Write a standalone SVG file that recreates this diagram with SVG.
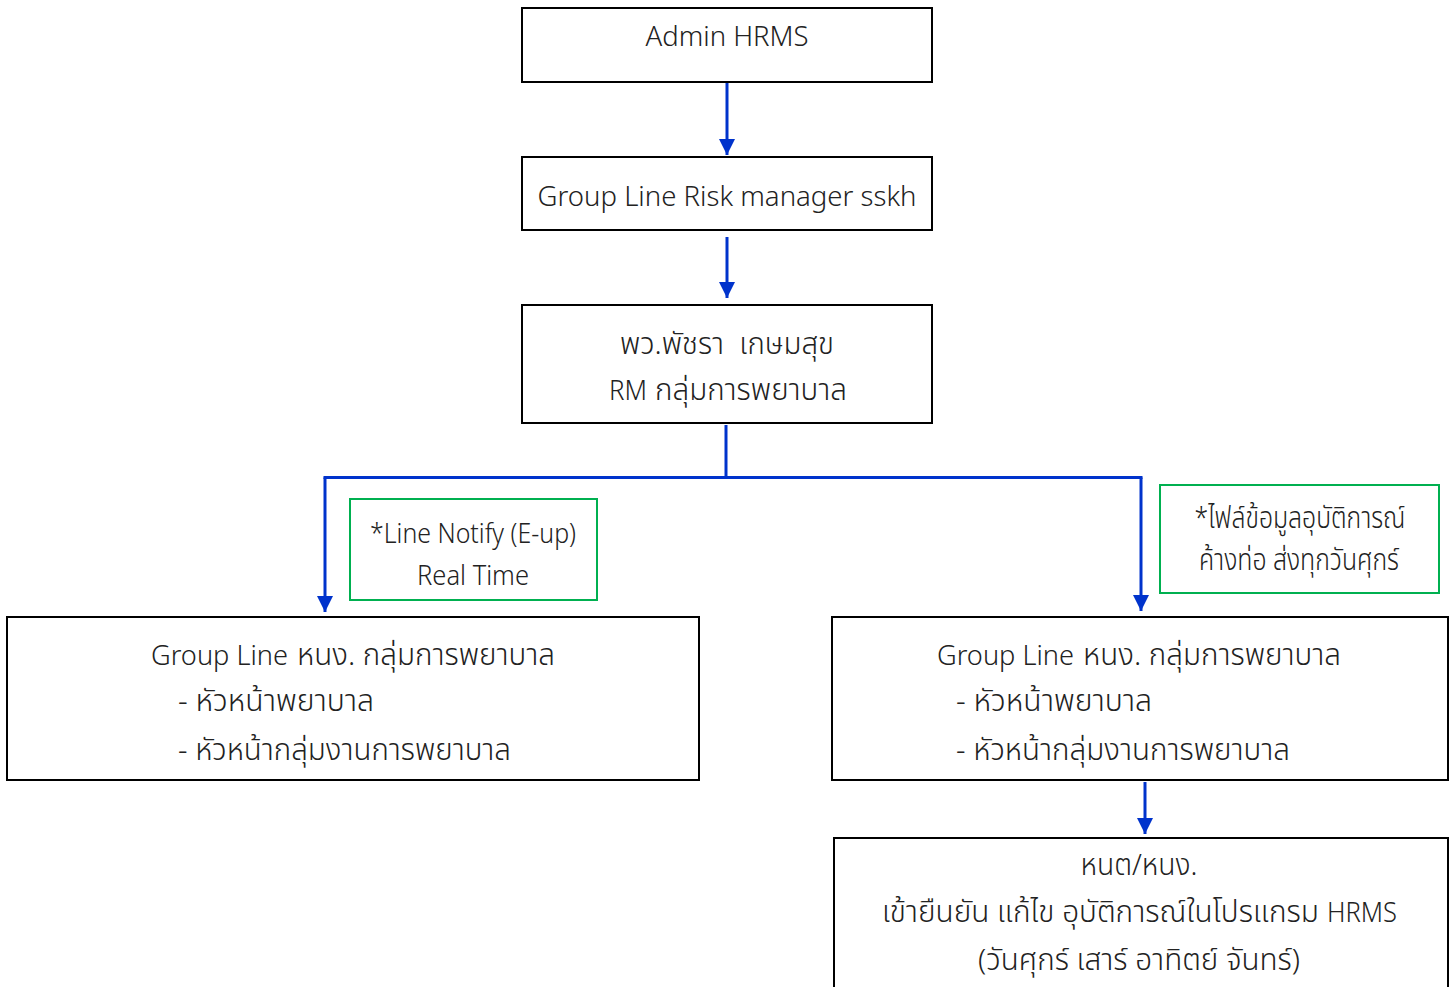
<svg xmlns="http://www.w3.org/2000/svg" width="1453" height="987" viewBox="0 0 1453 987">
<style>
.box{fill:#ffffff;stroke:#000000;stroke-width:2}
.note{fill:#ffffff;stroke:#00B050;stroke-width:2}
.t{font-family:"Noto Sans Thai","Noto Sans","DejaVu Sans",sans-serif;font-size:27px;font-weight:300;fill:#222222}
.th{font-size:30px}
.c{text-anchor:middle}
.conn{fill:none;stroke:#0033CC;stroke-width:3}
</style>
<defs>
<marker id="arr" markerUnits="userSpaceOnUse" markerWidth="16" markerHeight="16" refX="16" refY="8" orient="auto">
<path d="M0,0 L16,8 L0,16 Z" fill="#0033CC"/>
</marker>
</defs>
<rect width="1453" height="987" fill="#ffffff"/>
<g id="connectors">
<line class="conn" x1="727" y1="82" x2="727" y2="155" marker-end="url(#arr)"/>
<line class="conn" x1="727" y1="237" x2="727" y2="298" marker-end="url(#arr)"/>
<line class="conn" x1="726" y1="425" x2="726" y2="477.5"/>
<line class="conn" x1="323.5" y1="477.5" x2="1142.5" y2="477.5"/>
<line class="conn" x1="325" y1="477.5" x2="325" y2="612" marker-end="url(#arr)"/>
<line class="conn" x1="1141" y1="477.5" x2="1141" y2="611" marker-end="url(#arr)"/>
<line class="conn" x1="1145" y1="782" x2="1145" y2="834" marker-end="url(#arr)"/>
</g>
<g id="admin">
<rect class="box" x="522" y="8" width="410" height="74"/>
<text class="t c" x="727" y="46" textLength="163" lengthAdjust="spacingAndGlyphs">Admin HRMS</text>
</g>
<g id="riskgroup">
<rect class="box" x="522" y="157" width="410" height="73"/>
<text class="t c" x="727" y="206" textLength="379" lengthAdjust="spacingAndGlyphs">Group Line Risk manager sskh</text>
</g>
<g id="rm">
<rect class="box" x="522" y="305" width="410" height="118"/>
<text class="t th c" x="727" y="354" xml:space="preserve" textLength="214" lengthAdjust="spacingAndGlyphs">พว.พัชรา  เกษมสุข</text>
<text class="t" x="609" y="400" textLength="38" lengthAdjust="spacingAndGlyphs">RM</text>
<text class="t th" x="655" y="400" textLength="192" lengthAdjust="spacingAndGlyphs">กลุ่มการพยาบาล</text>
</g>
<g id="note-left">
<rect class="note" x="350" y="499" width="247" height="101"/>
<text class="t c" x="473" y="543" textLength="206" lengthAdjust="spacingAndGlyphs">*Line Notify (E-up)</text>
<text class="t c" x="473" y="585" textLength="112" lengthAdjust="spacingAndGlyphs">Real Time</text>
</g>
<g id="note-right">
<rect class="note" x="1160" y="485" width="279" height="108"/>
<text class="t th c" x="1300" y="528" textLength="211" lengthAdjust="spacingAndGlyphs">*ไฟล์ข้อมูลอุบัติการณ์</text>
<text class="t th c" x="1299" y="570" textLength="200" lengthAdjust="spacingAndGlyphs">ค้างท่อ ส่งทุกวันศุกร์</text>
</g>
<g id="group-left">
<rect class="box" x="7" y="617" width="692" height="163"/>
<text class="t" x="151" y="665" textLength="137" lengthAdjust="spacingAndGlyphs">Group Line</text>
<text class="t th" x="297" y="665" textLength="258" lengthAdjust="spacingAndGlyphs">หนง. กลุ่มการพยาบาล</text>
<text class="t th" x="178" y="711" textLength="196" lengthAdjust="spacingAndGlyphs">- หัวหน้าพยาบาล</text>
<text class="t th" x="178" y="760" textLength="333" lengthAdjust="spacingAndGlyphs">- หัวหน้ากลุ่มงานการพยาบาล</text>
</g>
<g id="group-right">
<rect class="box" x="832" y="617" width="616" height="163"/>
<text class="t" x="937" y="665" textLength="137" lengthAdjust="spacingAndGlyphs">Group Line</text>
<text class="t th" x="1083" y="665" textLength="258" lengthAdjust="spacingAndGlyphs">หนง. กลุ่มการพยาบาล</text>
<text class="t th" x="956" y="711" textLength="196" lengthAdjust="spacingAndGlyphs">- หัวหน้าพยาบาล</text>
<text class="t th" x="956" y="760" textLength="334" lengthAdjust="spacingAndGlyphs">- หัวหน้ากลุ่มงานการพยาบาล</text>
</g>
<g id="confirm">
<rect class="box" x="834" y="838" width="614" height="170"/>
<text class="t th c" x="1139" y="875" textLength="117" lengthAdjust="spacingAndGlyphs">หนต/หนง.</text>
<text class="t th" x="882" y="922" textLength="437" lengthAdjust="spacingAndGlyphs">เข้ายืนยัน แก้ไข อุบัติการณ์ในโปรแกรม</text>
<text class="t" x="1327" y="922" textLength="70" lengthAdjust="spacingAndGlyphs">HRMS</text>
<text class="t th c" x="1139" y="970" textLength="322" lengthAdjust="spacingAndGlyphs">(วันศุกร์ เสาร์ อาทิตย์ จันทร์)</text>
</g>
</svg>
